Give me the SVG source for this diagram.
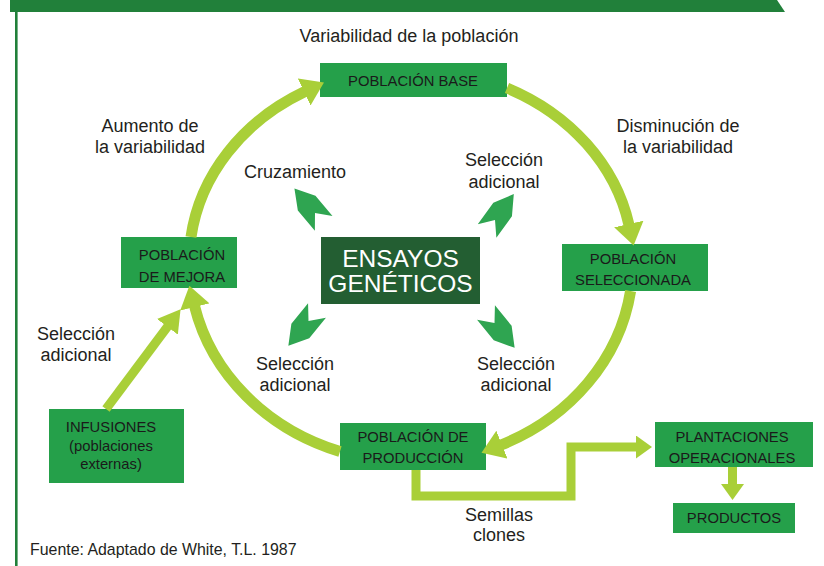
<svg xmlns="http://www.w3.org/2000/svg" width="824" height="566" viewBox="0 0 824 566">
  <style>
    .lab { font-family: "Liberation Sans", Arial, sans-serif; font-size: 18px; fill: #231f20; text-anchor: middle; }
    .nt { font-family: "Liberation Sans", Arial, sans-serif; font-size: 14.8px; fill: #1a1a1a; text-anchor: middle; }
    .ct { font-family: "Liberation Sans", Arial, sans-serif; font-size: 24.5px; fill: #ffffff; text-anchor: middle; }
    .src { font-family: "Liberation Sans", Arial, sans-serif; font-size: 15.9px; fill: #231f20; }
    .box { fill: #25a04a; }
    .cbox { fill: #235e32; }
    .arc { fill: none; stroke: #a9cf38; stroke-width: 11; }
    .lnk { fill: none; stroke: #a9cf38; stroke-width: 9; stroke-linejoin: miter; }
    .sa { fill: #2fa551; }
  </style>
  <defs>
    <marker id="ah" markerUnits="userSpaceOnUse" viewBox="0 -15 22 30" refX="1" refY="0" markerWidth="22" markerHeight="30" orient="auto">
      <path d="M0,-15 L22,0 L0,15 Z" fill="#a9cf38"/>
    </marker>
    <marker id="ahm" markerUnits="userSpaceOnUse" viewBox="0 -13 22 26" refX="1" refY="0" markerWidth="22" markerHeight="26" orient="auto">
      <path d="M0,-13 L22,0 L0,13 Z" fill="#a9cf38"/>
    </marker>
    <marker id="ahs" markerUnits="userSpaceOnUse" viewBox="0 -11.5 16 23" refX="1" refY="0" markerWidth="16" markerHeight="23" orient="auto">
      <path d="M0,-11.5 L16,0 L0,11.5 Z" fill="#a9cf38"/>
    </marker>
    <path id="sa" d="M0,-32 L11.5,-13 L11.5,13.5 L0,0 L-11.5,13.5 L-11.5,-13 Z"/>
  </defs>

  <!-- frame -->
  <g id="frame">
    <polygon points="10,0 777,0 785,12 10,12" fill="#21803a"/>
    <rect x="15" y="10" width="2.6" height="556" fill="#21803a"/>
  </g>

  <!-- nodes -->
  <g id="nodes">
    <g id="base">
      <rect class="box" x="320" y="63" width="187" height="34"/>
      <text class="nt" x="413" y="86">POBLACIÓN BASE</text>
    </g>
    <g id="seleccionada">
      <rect class="box" x="562" y="244" width="146" height="47"/>
      <text class="nt" x="633" y="263.5">POBLACIÓN</text>
      <text class="nt" x="633" y="285">SELECCIONADA</text>
    </g>
    <g id="mejora">
      <rect class="box" x="121" y="237" width="116" height="51"/>
      <text class="nt" x="182" y="260">POBLACIÓN</text>
      <text class="nt" x="182" y="281.5">DE MEJORA</text>
    </g>
    <g id="produccion">
      <rect class="box" x="340" y="423" width="146" height="47"/>
      <text class="nt" x="413" y="441.5">POBLACIÓN DE</text>
      <text class="nt" x="413" y="463">PRODUCCIÓN</text>
    </g>
    <g id="ensayos">
      <rect class="cbox" x="321" y="237" width="159" height="67"/>
      <text class="ct" x="400.5" y="266.5">ENSAYOS</text>
      <text class="ct" x="400.5" y="291.5">GENÉTICOS</text>
    </g>
    <g id="infusiones">
      <rect class="box" x="49" y="409" width="135" height="74"/>
      <text class="nt" x="111" y="431.5">INFUSIONES</text>
      <text class="nt" x="111" y="450.5">(poblaciones</text>
      <text class="nt" x="111" y="469">externas)</text>
    </g>
    <g id="plantaciones">
      <rect class="box" x="655" y="422" width="158" height="45"/>
      <text class="nt" x="732" y="442">PLANTACIONES</text>
      <text class="nt" x="732" y="463">OPERACIONALES</text>
    </g>
    <g id="productos">
      <rect class="box" x="673" y="503" width="122" height="30"/>
      <text class="nt" x="734" y="523">PRODUCTOS</text>
    </g>
  </g>

  <!-- connectors -->
  <g id="connectors">
    <path class="arc" d="M191,237 A222,193 0 0 1 305,91.5" marker-end="url(#ah)"/>
    <path class="arc" d="M507,88 A222,193 0 0 1 629,225" marker-end="url(#ah)"/>
    <path class="arc" d="M630.6,291 A222,200 0 0 1 501,445" marker-end="url(#ah)"/>
    <path class="arc" d="M340,451.5 A222,200 0 0 1 194.5,306" marker-end="url(#ah)"/>
    <path class="lnk" d="M106,409 L168,326" marker-end="url(#ahm)"/>
    <path class="lnk" d="M416,470 V496 H571 V447 H637" marker-end="url(#ahs)"/>
    <path class="lnk" d="M732.5,467 V485" marker-end="url(#ahs)"/>
    <use href="#sa" class="sa" transform="translate(315,213) rotate(-40)"/>
    <use href="#sa" class="sa" transform="translate(495,220) rotate(36)"/>
    <use href="#sa" class="sa" transform="translate(308.5,321) rotate(-141)"/>
    <use href="#sa" class="sa" transform="translate(494.5,323) rotate(141)"/>
  </g>

  <!-- labels -->
  <g id="labels">
    <text class="lab" x="409" y="42">Variabilidad de la población</text>
    <text class="lab" x="150" y="132">Aumento de</text>
    <text class="lab" x="150" y="153">la variabilidad</text>
    <text class="lab" x="678" y="132">Disminución de</text>
    <text class="lab" x="678" y="153">la variabilidad</text>
    <text class="lab" x="295" y="178">Cruzamiento</text>
    <text class="lab" x="504" y="166">Selección</text>
    <text class="lab" x="504" y="188">adicional</text>
    <text class="lab" x="295" y="370">Selección</text>
    <text class="lab" x="295" y="391">adicional</text>
    <text class="lab" x="516" y="370">Selección</text>
    <text class="lab" x="516" y="391">adicional</text>
    <text class="lab" x="76" y="340">Selección</text>
    <text class="lab" x="76" y="361">adicional</text>
    <text class="lab" x="499" y="520.5">Semillas</text>
    <text class="lab" x="499" y="541">clones</text>
    <text class="src" x="30" y="555">Fuente: Adaptado de White, T.L. 1987</text>
  </g>
</svg>
